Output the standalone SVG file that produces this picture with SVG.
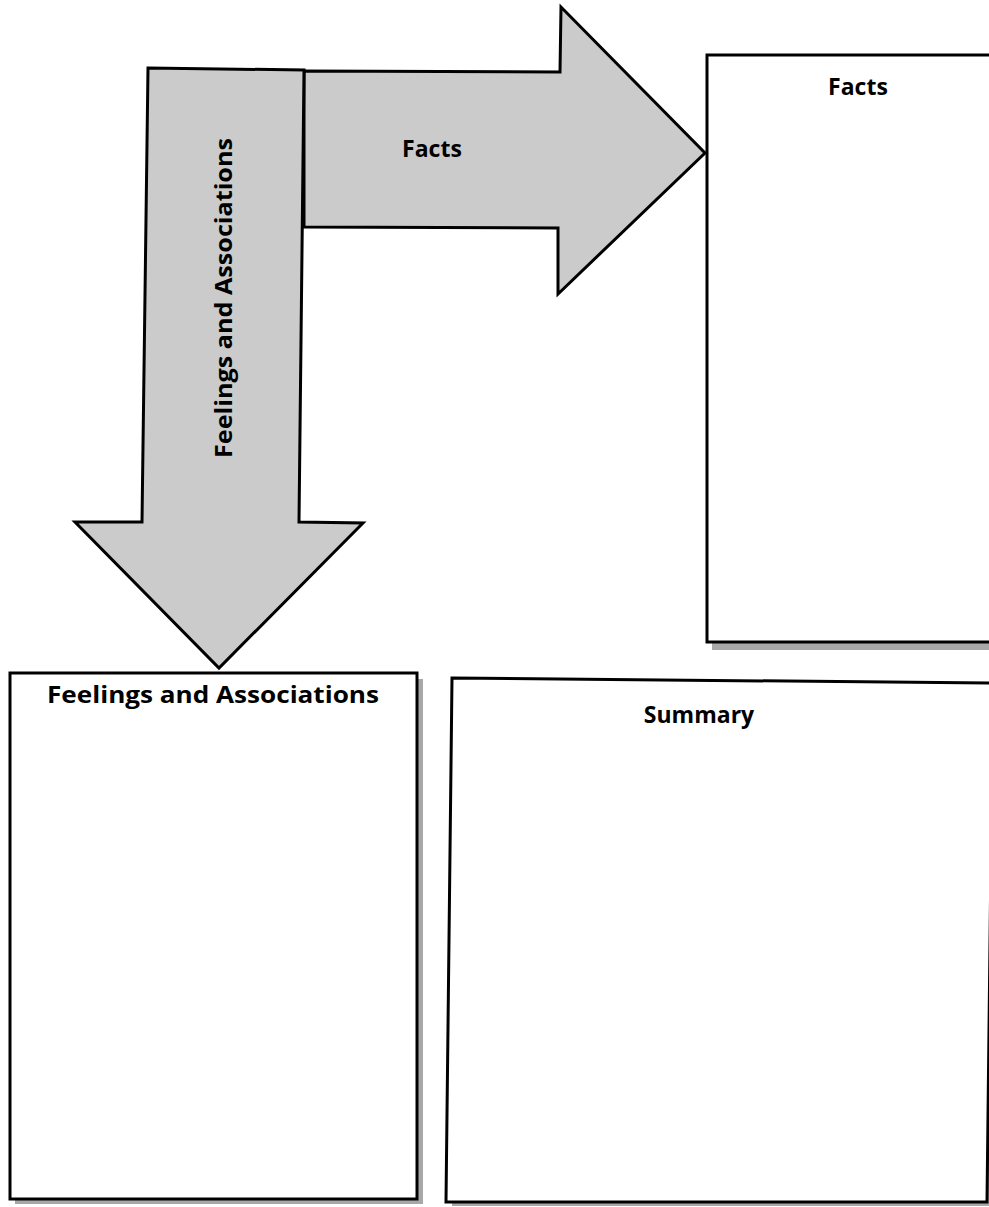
<svg xmlns="http://www.w3.org/2000/svg" width="989" height="1207" viewBox="0 0 989 1207">
  <style>
    .arrow { fill: #cbcbcb; stroke: #000; stroke-width: 3; stroke-linejoin: miter; }
    .box { fill: #fff; stroke: #000; stroke-width: 3; }
    .shadow { fill: #a8a8a8; }
    .lbl { font-family: "Open Sans", "DejaVu Sans", sans-serif; font-weight: 700; font-size: 23px; fill: #000; text-anchor: middle; }
  </style>
  <rect width="989" height="1207" fill="#fff"/>

  <g id="facts-box">
    <rect class="shadow" x="712" y="60" width="290" height="590"/>
    <rect class="box" x="707" y="55" width="290" height="587"/>
    <text class="lbl" x="858" y="95">Facts</text>
  </g>

  <g id="feelings-box">
    <rect class="shadow" x="15" y="679" width="408" height="525"/>
    <rect class="box" x="10" y="673" width="407" height="526"/>
    <text class="lbl" x="213" y="703" textLength="332" lengthAdjust="spacingAndGlyphs">Feelings and Associations</text>
  </g>

  <g id="summary-box">
    <polygon class="shadow" points="455,684 995,688 991,1206 452,1206"/>
    <polygon class="box" points="452,678 993,683 987,1202 446,1202"/>
    <text class="lbl" x="699" y="723">Summary</text>
  </g>

  <g id="connectors">
    <polygon class="arrow" points="304,71 560,72 561,7 705,153 558,294 558,228 304,227"/>
    <text class="lbl" x="432" y="157">Facts</text>
    <polygon class="arrow" points="148,68 304,70 299,522 363,523 219,668 75,522 142,522"/>
    <text class="lbl" transform="translate(232,298) rotate(-90)" x="0" y="0" textLength="320" lengthAdjust="spacingAndGlyphs">Feelings and Associations</text>
  </g>
</svg>
